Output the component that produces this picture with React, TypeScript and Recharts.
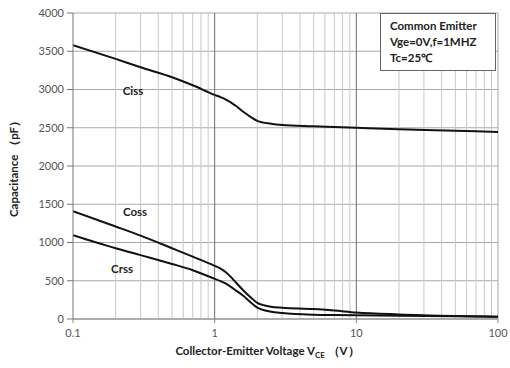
import React from "react";
import {
  LineChart,
  Line,
  XAxis,
  YAxis,
  CartesianGrid,
  ReferenceLine,
  ReferenceDot,
  Label,
} from "recharts";

// collector-emitter voltage (V)
const voltages = [0.1, 0.2, 0.3, 0.5, 0.7, 1, 1.1, 1.2, 1.3, 1.4, 1.6, 1.8, 2, 2.5, 3, 5, 7, 10, 20, 50, 100];
const ciss = [3580, 3400, 3290, 3160, 3055, 2930, 2900, 2868, 2832, 2790, 2705, 2640, 2590, 2552, 2536, 2520, 2510, 2500, 2480, 2460, 2445];
const coss = [1410, 1210, 1090, 925, 815, 695, 660, 612, 550, 485, 370, 282, 210, 160, 148, 130, 110, 85, 60, 40, 30];
const crss = [1095, 925, 835, 720, 638, 525, 495, 462, 420, 378, 300, 215, 148, 95, 78, 56, 51, 48, 42, 35, 28];

const xTicks = [0.1, 1, 10, 100];
const xMinor = [0.2, 0.3, 0.4, 0.5, 0.6, 0.7, 0.8, 0.9, 2, 3, 4, 5, 6, 7, 8, 9, 20, 30, 40, 50, 60, 70, 80, 90];
const xMajorLines = [1, 10];
const yTicks = [0, 500, 1000, 1500, 2000, 2500, 3000, 3500, 4000];

const curveLabels = [
  { name: "Ciss", v: 0.265, c: 2980 },
  { name: "Coss", v: 0.274, c: 1400 },
  { name: "Crss", v: 0.222, c: 655 },
];

const noteLines = ["Common Emitter", "Vge=0V,f=1MHZ", "Tc=25℃"];

const data = voltages.map((v, i) => ({ v, ciss: ciss[i], coss: coss[i], crss: crss[i] }));

const font = "Lato, 'Open Sans', sans-serif";

export default function App() {
  return (
    <div style={{ position: "absolute", left: 0, top: 0, width: 510, height: 368, background: "#fff" }}>
      <LineChart
        width={510}
        height={368}
        data={data}
        margin={{ top: 13, right: 12, left: 0, bottom: 0 }}
      >
        {xMinor.map((v) => (
          <ReferenceLine key={v} x={v} stroke="#c8c8c8" strokeWidth={1} />
        ))}
        <CartesianGrid vertical={false} stroke="#a8a8a8" strokeWidth={1} />
        {xMajorLines.map((v) => (
          <ReferenceLine key={v} x={v} stroke="#6e6e6e" strokeWidth={1} />
        ))}
        <ReferenceLine x={100} stroke="#a8a8a8" />
        <XAxis
          dataKey="v"
          type="number"
          scale="log"
          domain={[0.1, 100]}
          ticks={xTicks}
          allowDataOverflow
          height={49}
          tickSize={4}
          tickMargin={6}
          stroke="#888"
          tick={{ fill: "#555", fontSize: 11, fontFamily: font }}
        >
          <Label
            content={({ viewBox }: any) => (
              <text
                x={viewBox.x + viewBox.width / 2 - 18}
                y={viewBox.y + 36}
                textAnchor="middle"
                fontFamily={font}
                fontWeight="bold"
                fontSize={11.5}
                fill="#222"
              >
                Collector-Emitter Voltage V
                <tspan fontSize={8} dy={3}>CE</tspan>
                <tspan dy={-3}> （V）</tspan>
              </text>
            )}
          />
        </XAxis>
        <YAxis
          type="number"
          domain={[0, 4000]}
          ticks={yTicks}
          width={73}
          tickSize={6}
          tickMargin={3}
          stroke="#777"
          tick={{ fill: "#555", fontSize: 11, fontFamily: font }}
        >
          <Label
            value="Capacitance （pF）"
            angle={-90}
            position="insideLeft"
            offset={14}
            style={{ textAnchor: "middle", fontFamily: font, fontWeight: "bold", fontSize: 11.5, fill: "#222" }}
          />
        </YAxis>
        <Line type="monotone" dataKey="ciss" stroke="#111" strokeWidth={2} dot={false} isAnimationActive={false} />
        <Line type="monotone" dataKey="coss" stroke="#111" strokeWidth={2} dot={false} isAnimationActive={false} />
        <Line type="monotone" dataKey="crss" stroke="#111" strokeWidth={2} dot={false} isAnimationActive={false} />
        {curveLabels.map((l) => (
          <ReferenceDot
            key={l.name}
            x={l.v}
            y={l.c}
            r={0}
            stroke="none"
            fill="none"
            label={{ value: l.name, position: "center", fontFamily: font, fontWeight: "bold", fontSize: 11.5, fill: "#222" }}
          />
        ))}
      </LineChart>
      <div
        style={{
          position: "absolute",
          left: 380,
          top: 13,
          width: 116,
          height: 58,
          border: "1px solid #666",
          background: "#fff",
          fontFamily: font,
          fontWeight: "bold",
          fontSize: 11.5,
          color: "#222",
          lineHeight: "16px",
          padding: "4px 0 0 9px",
          boxSizing: "border-box",
        }}
      >
        {noteLines.map((t) => (
          <div key={t}>{t}</div>
        ))}
      </div>
    </div>
  );
}
